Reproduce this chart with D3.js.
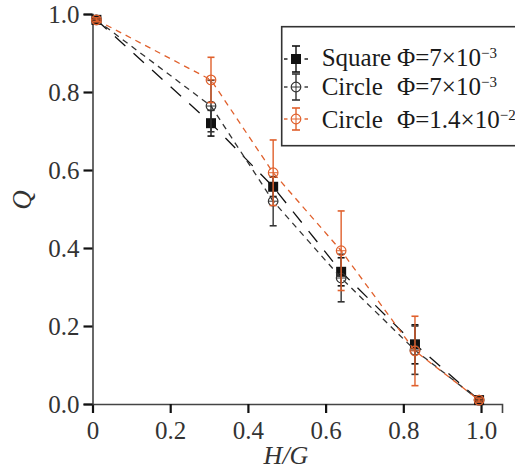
<!DOCTYPE html>
<html>
<head>
<meta charset="utf-8">
<script src="https://cdn.jsdelivr.net/npm/d3@7"></script>
<style>
  body { margin: 0; background: #fff; }
</style>
</head>
<body>
<div id="chart"></div>
<script>
// H/G positions shared by all three series
const hg = [0.01, 0.305, 0.465, 0.64, 0.83, 0.995];

const squareQ = [0.985, 0.72, 0.557, 0.339, 0.153, 0.01];
const squareErr = [0.005, 0.033, 0.025, 0.036, 0.05, 0.005];

const circleQ = [0.985, 0.764, 0.52, 0.323, 0.138, 0.01];
const circleErr = [0.005, 0.066, 0.063, 0.061, 0.062, 0.005];

const circle2Q = [0.985, 0.831, 0.593, 0.393, 0.136, 0.01];
const circle2Err = [0.005, 0.058, 0.084, 0.102, 0.089, 0.005];

const xTicks = [0, 0.2, 0.4, 0.6, 0.8, 1.0];
const xTickLabels = ["0", "0.2", "0.4", "0.6", "0.8", "1.0"];
const yTicks = [0, 0.2, 0.4, 0.6, 0.8, 1.0];
const yTickLabels = ["0.0", "0.2", "0.4", "0.6", "0.8", "1.0"];

const orange = "#e0602c";
const serif = "Times New Roman, Tinos, Liberation Serif, Noto Serif, FreeSerif, DejaVu Serif, Georgia, serif";

const series = [
    {name: "Square", phi: "7×10", exp: "−3", q: squareQ, err: squareErr,
     color: "#111", marker: "square", dash: "14,11"},
    {name: "Circle", phi: "7×10", exp: "−3", q: circleQ, err: circleErr,
     color: "#333", marker: "circle", dash: "6,5"},
    {name: "Circle", phi: "1.4×10", exp: "−2", q: circle2Q, err: circle2Err,
     color: orange, marker: "circle", dash: "6,5"}
];

const width = 515, height = 471;

const svg = d3.select("#chart")
    .append("svg")
    .attr("width", width)
    .attr("height", height)
    .style("font-family", serif);

const x = d3.scaleLinear().domain([0, 1.054]).range([92.5, 502]);
const y = d3.scaleLinear().domain([0, 1]).range([404, 14]);

// axes
const xAxis = svg.append("g")
    .attr("transform", `translate(0,${y(0)})`)
    .call(d3.axisBottom(x).tickValues(xTicks).tickSizeOuter(0).tickSize(9).tickPadding(6)
        .tickFormat((d, i) => xTickLabels[i]));

const yAxis = svg.append("g")
    .attr("transform", `translate(${x(0)},0)`)
    .call(d3.axisLeft(y).tickValues(yTicks).tickSizeOuter(0).tickSize(9).tickPadding(4)
        .tickFormat((d, i) => yTickLabels[i]));

[xAxis, yAxis].forEach(g => {
    g.attr("font-family", null).attr("font-size", 25);
    g.select(".domain").attr("stroke", "#444").attr("stroke-width", 1.6);
    g.selectAll(".tick line").attr("stroke", "#111").attr("stroke-width", 2.2);
    g.selectAll(".tick text").attr("fill", "#333");
});
yAxis.selectAll(".tick text").attr("dy", "0.34em");
xAxis.selectAll(".tick text").attr("dy", "0.78em");

// axis titles
svg.append("text")
    .attr("x", 286)
    .attr("y", 464)
    .attr("text-anchor", "middle")
    .attr("font-size", 26)
    .attr("font-style", "italic")
    .attr("fill", "#333")
    .text("H/G");

svg.append("text")
    .attr("transform", "translate(31,200) rotate(-90)")
    .attr("text-anchor", "middle")
    .attr("font-size", 27)
    .attr("font-style", "italic")
    .attr("fill", "#333")
    .text("Q");

// series
series.forEach(s => {
    const pts = hg.map((h, i) => ({h: h, q: s.q[i], e: s.err[i]}));
    const g = svg.append("g");

    g.append("path")
        .datum(pts)
        .attr("fill", "none")
        .attr("stroke", s.color)
        .attr("stroke-width", 1.3)
        .attr("stroke-dasharray", s.dash)
        .attr("d", d3.line().x(d => x(d.h)).y(d => y(d.q)));

    // error bars
    g.selectAll(".eb")
        .data(pts)
        .enter()
        .append("line")
        .attr("x1", d => x(d.h))
        .attr("x2", d => x(d.h))
        .attr("y1", d => y(d.q - d.e))
        .attr("y2", d => y(d.q + d.e))
        .attr("stroke", s.color)
        .attr("stroke-width", 1.4);

    [-1, 1].forEach(sign => {
        g.selectAll(null)
            .data(pts)
            .enter()
            .append("line")
            .attr("x1", d => x(d.h) - 3.5)
            .attr("x2", d => x(d.h) + 3.5)
            .attr("y1", d => y(d.q + sign * d.e))
            .attr("y2", d => y(d.q + sign * d.e))
            .attr("stroke", s.color)
            .attr("stroke-width", 1.6);
    });

    if (s.marker === "square") {
        g.selectAll(".mk")
            .data(pts)
            .enter()
            .append("rect")
            .attr("x", d => x(d.h) - 5)
            .attr("y", d => y(d.q) - 5)
            .attr("width", 10)
            .attr("height", 10)
            .attr("fill", s.color);
    } else {
        g.selectAll(".mk")
            .data(pts)
            .enter()
            .append("circle")
            .attr("cx", d => x(d.h))
            .attr("cy", d => y(d.q))
            .attr("r", 4.8)
            .attr("fill", "none")
            .attr("stroke", s.color)
            .attr("stroke-width", 1.2);
        g.selectAll(".mk2")
            .data(pts)
            .enter()
            .append("line")
            .attr("x1", d => x(d.h) - 4.8)
            .attr("x2", d => x(d.h) + 4.8)
            .attr("y1", d => y(d.q))
            .attr("y2", d => y(d.q))
            .attr("stroke", s.color)
            .attr("stroke-width", 1);
    }
});

// legend
const legend = svg.append("g");
legend.append("rect")
    .attr("x", 281.7)
    .attr("y", 26.7)
    .attr("width", 260)
    .attr("height", 119)
    .attr("fill", "#fff")
    .attr("stroke", "#333")
    .attr("stroke-width", 1.6);

const rowSym = [59, 87, 119];
const rowText = [66, 95, 128];
const rowBar = [13, 13, 11];

series.forEach((s, i) => {
    const cy = rowSym[i], cx = 296;
    const lg = legend.append("g");
    [[284, 287.5], [304.5, 308]].forEach(seg => {
        lg.append("line")
            .attr("x1", seg[0]).attr("x2", seg[1])
            .attr("y1", cy).attr("y2", cy)
            .attr("stroke", s.color).attr("stroke-width", 1.4);
    });
    lg.append("line")
        .attr("x1", cx).attr("x2", cx)
        .attr("y1", cy - rowBar[i]).attr("y2", cy + rowBar[i])
        .attr("stroke", s.color).attr("stroke-width", 1.4);
    [-1, 1].forEach(sign => {
        lg.append("line")
            .attr("x1", cx - 4).attr("x2", cx + 4)
            .attr("y1", cy + sign * rowBar[i]).attr("y2", cy + sign * rowBar[i])
            .attr("stroke", s.color).attr("stroke-width", 1.6);
    });
    if (s.marker === "square") {
        lg.append("rect")
            .attr("x", cx - 5).attr("y", cy - 5)
            .attr("width", 10).attr("height", 10)
            .attr("fill", s.color);
    } else {
        lg.append("circle")
            .attr("cx", cx).attr("cy", cy).attr("r", 4.8)
            .attr("fill", "#fff").attr("stroke", s.color).attr("stroke-width", 1.2);
        lg.append("line")
            .attr("x1", cx - 4.8).attr("x2", cx + 4.8)
            .attr("y1", cy).attr("y2", cy)
            .attr("stroke", s.color).attr("stroke-width", 1);
        lg.append("line")
            .attr("x1", cx).attr("x2", cx)
            .attr("y1", cy - 4.8).attr("y2", cy + 4.8)
            .attr("stroke", s.color).attr("stroke-width", 1);
    }

    lg.append("text")
        .attr("x", 321.7)
        .attr("y", rowText[i])
        .attr("font-size", 25)
        .attr("fill", "#1a1a1a")
        .text(s.name);

    const t = lg.append("text")
        .attr("x", 397)
        .attr("y", rowText[i])
        .attr("font-size", 25)
        .attr("fill", "#1a1a1a");
    t.append("tspan").text("Φ=" + s.phi);
    t.append("tspan")
        .attr("dy", -8)
        .attr("font-size", 15)
        .text(s.exp);
});
</script>
</body>
</html>
